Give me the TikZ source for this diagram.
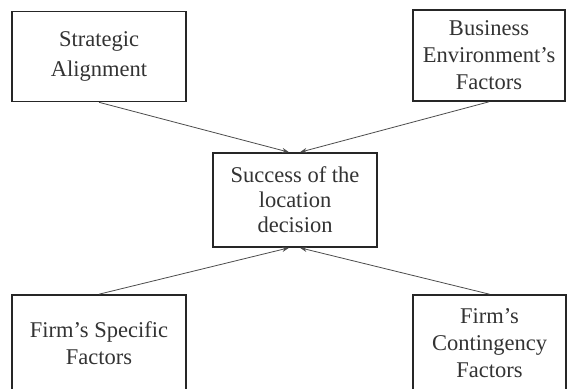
\documentclass[tikz,border=0pt]{standalone}
\usepackage{fontspec}
\setmainfont{Liberation Serif}
\usetikzlibrary{arrows.meta}

\begin{document}
\begin{tikzpicture}[x=1pt, y=-1pt,
    factor/.style={draw=black!85, line width=1.6pt, fill=white, align=center,
                   text=black!80, font=\fontsize{22.5}{27}\selectfont, inner sep=0pt},
    link/.style={draw=black!70, line width=0.8pt, -{Stealth[length=7pt, width=5pt]}}]
    \useasboundingbox (0,0) rectangle (567,388);
    % influencing factors
    \node[factor, minimum width=174pt, minimum height=90pt,
          font=\fontsize{22.5}{30}\selectfont] (strat) at (99,56.5) {Strategic\\Alignment};
    \node[factor, minimum width=152pt, minimum height=91pt] (busenv) at (489,55.5) {Business\\Environment's\\Factors};
    \node[factor, minimum width=174pt, minimum height=96pt] (specific) at (99,343) {Firm's Specific\\Factors};
    \node[factor, minimum width=153pt, minimum height=96pt] (conting) at (489.5,343) {Firm's\\Contingency\\Factors};
    % outcome
    \node[factor, minimum width=164pt, minimum height=94pt,
          font=\fontsize{22.5}{25}\selectfont] (success) at (295,200) {Success of the\\location\\decision};
    % connectors
    \draw[link] (strat.south) -- ([xshift=-6pt]success.north);
    \draw[link] (busenv.south) -- ([xshift=5pt]success.north);
    \draw[link] (specific.north) -- ([xshift=-6pt]success.south);
    \draw[link] (conting.north) -- ([xshift=5pt]success.south);
\end{tikzpicture}
\end{document}
